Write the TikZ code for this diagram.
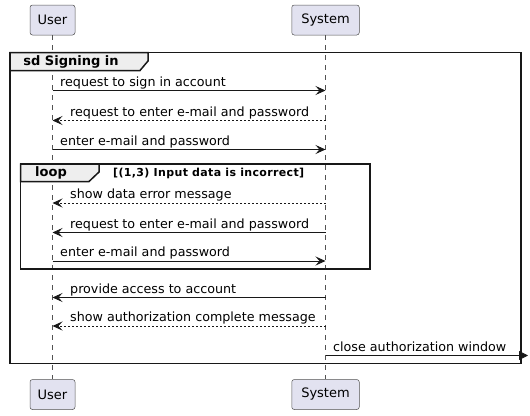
\documentclass[tikz,border=0pt]{standalone}
\usepackage{fontspec}
\setmainfont{DejaVu Sans}
\usetikzlibrary{arrows.meta}
\definecolor{partfill}{HTML}{E2E2F0}
\definecolor{ink}{HTML}{181818}
\definecolor{tabfill}{HTML}{EEEEEE}
\tikzset{
  part/.style={draw=ink!75, fill=partfill, rounded corners=2.5pt, line width=0.5pt, minimum height=30pt, inner sep=0pt, font=\fontsize{13pt}{15pt}\selectfont},
  lifeline/.style={draw=ink!75, line width=0.5pt, dash pattern=on 5pt off 5pt},
  msg/.style={draw=ink, line width=0.8pt, -{Stealth[length=10pt,width=9pt,inset=4pt]}},
  dmsg/.style={msg, dash pattern=on 2pt off 2pt},
  lastmsg/.style={draw=ink, line width=0.8pt, -{Triangle[length=9pt,width=9pt]}},
  lbl/.style={anchor=base west, inner sep=0pt, font=\fontsize{12.7pt}{15pt}\selectfont},
  frame/.style={draw=ink, line width=1.5pt},
  tab/.style={draw=ink, fill=tabfill, line width=1.5pt},
  tablbl/.style={inner sep=0pt, font=\bfseries\fontsize{13pt}{15pt}\selectfont},
  guard/.style={anchor=base west, inner sep=0pt, font=\bfseries\fontsize{11pt}{12pt}\selectfont\addfontfeatures{LetterSpace=3.2}}
}
\begin{document}
\begin{tikzpicture}[x=1pt,y=-1pt]
\useasboundingbox (0,0) rectangle (530,415);
% participants
\node[part, minimum width=45pt] (uT) at (52.5,20) {User};
\node[part, minimum width=67.5pt] (sT) at (325.5,20) {System};
\node[part, minimum width=45pt] (uB) at (52.5,394.5) {User};
\node[part, minimum width=67.5pt] (sB) at (325.5,394.5) {System};
\draw[lifeline] (uT.south) -- (uB.north);
\draw[lifeline] (sT.south) -- (sB.north);

% outer frame
\draw[frame] (10,52.5) rectangle (521,363.5);
\draw[tab] (10,52.5) -- (148,52.5) -- (148,61) -- (140,70.5) -- (10,70.5) -- cycle;
\node[tablbl] (sdl) at (71,61.5) {sd Signing in};

% coordinates for messages
\coordinate (u1) at (52.5,90.5);  \coordinate (s1) at (325.5,90.5);
\coordinate (u2) at (52.5,120.5); \coordinate (s2) at (325.5,120.5);
\coordinate (u3) at (52.5,149.5); \coordinate (s3) at (325.5,149.5);
\coordinate (u4) at (52.5,203);   \coordinate (s4) at (325.5,203);
\coordinate (u5) at (52.5,232.5); \coordinate (s5) at (325.5,232.5);
\coordinate (u6) at (52.5,261);   \coordinate (s6) at (325.5,261);
\coordinate (u7) at (52.5,297.5); \coordinate (s7) at (325.5,297.5);
\coordinate (u8) at (52.5,326);   \coordinate (s8) at (325.5,326);
\coordinate (s9) at (325.5,355.5); \coordinate (e9) at (528,355.5);

\draw[msg] (u1) -- (s1);
\node[lbl] (m1) at (60,86) {request to sign in account};
\draw[dmsg] (s2) -- (u2);
\node[lbl] (m2) at (70,116) {request to enter e-mail and password};
\draw[msg] (u3) -- (s3);
\node[lbl] (m3) at (60,145) {enter e-mail and password};

% loop frame
\draw[frame] (20.5,164) rectangle (370,269);
\draw[tab] (20.5,164) -- (99,164) -- (99,172) -- (89,181.5) -- (20.5,181.5) -- cycle;
\node[tablbl] (lpl) at (51,173) {loop};
\node[guard] (gd) at (113,176.5) {[(1,3) Input data is incorrect]};

\draw[dmsg] (s4) -- (u4);
\node[lbl] (m4) at (70,198.5) {show data error message};
\draw[msg] (s5) -- (u5);
\node[lbl] (m5) at (70,228) {request to enter e-mail and password};
\draw[msg] (u6) -- (s6);
\node[lbl] (m6) at (60,256.5) {enter e-mail and password};

\draw[msg] (s7) -- (u7);
\node[lbl] (m7) at (70,293) {provide access to account};
\draw[dmsg] (s8) -- (u8);
\node[lbl] (m8) at (70,321.5) {show authorization complete message};
\draw[lastmsg] (s9) -- (e9);
\node[lbl] (m9) at (333,351) {close authorization window};
\end{tikzpicture}
\end{document}
